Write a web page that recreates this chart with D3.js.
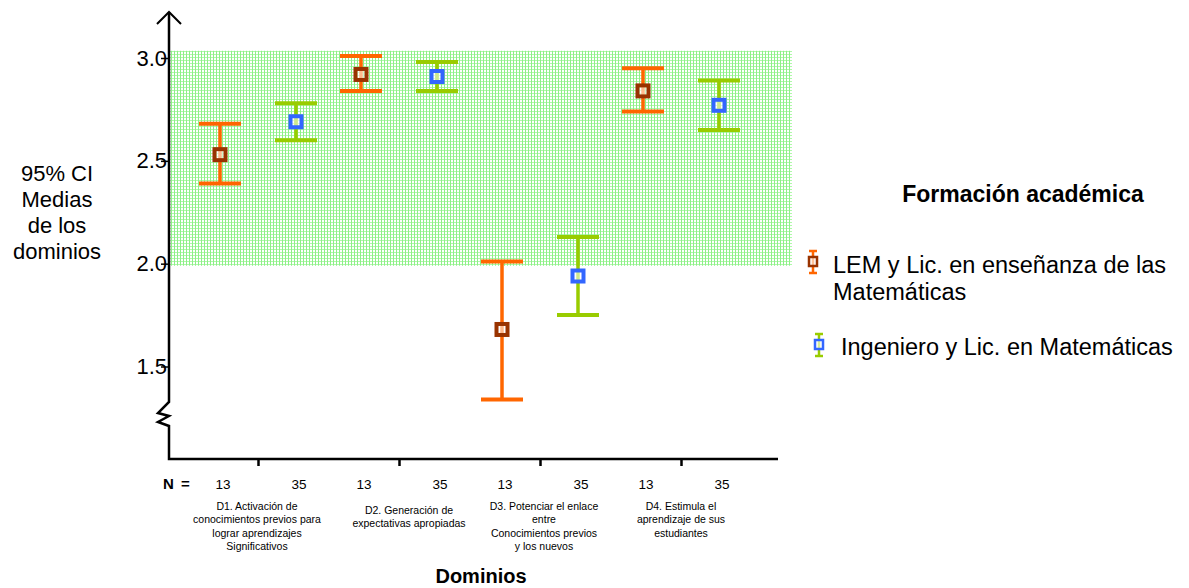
<!DOCTYPE html>
<html>
<head>
<meta charset="utf-8">
<script src="https://cdn.jsdelivr.net/npm/d3@7"></script>
<style>
  html, body { margin: 0; padding: 0; background: #fff; }
  svg { display: block; font-family: Arial, "Liberation Sans", sans-serif; }
</style>
</head>
<body>
<svg id="chart" width="1189" height="588"></svg>
<script>
// ---------- data ----------
const domainLabels = [
  ["D1. Activación de", "conocimientos previos para", "lograr aprendizajes", "Significativos"],
  ["D2. Generación de", "expectativas apropiadas"],
  ["D3. Potenciar el enlace", "entre", "Conocimientos previos", "y los nuevos"],
  ["D4. Estimula el", "aprendizaje de sus", "estudiantes"]
];
const seriesNames = ["LEM y Lic. en enseñanza de las Matemáticas", "Ingeniero y Lic. en Matemáticas"];
const seriesKeys = ["LEM", "ING"];
const nLEM = [13, 13, 13, 13];
const nING = [35, 35, 35, 35];
const meanLEM = [2.53, 2.92, 1.68, 2.84];
const lowLEM  = [2.39, 2.84, 1.34, 2.74];
const highLEM = [2.68, 3.01, 2.01, 2.95];
const meanING = [2.69, 2.91, 1.94, 2.77];
const lowING  = [2.60, 2.84, 1.75, 2.65];
const highING = [2.78, 2.98, 2.13, 2.89];
const yTicks = [1.5, 2.0, 2.5, 3.0];
const bandRange = [1.99, 3.035];

// ---------- layout ----------
const svg = d3.select("#chart");
const axisX = 169, axisBottom = 459, axisRight = 778;

const y = d3.scaleLinear().domain([1.5, 3.0]).range([366.5, 58]);
const xDom = d3.scalePoint().domain(d3.range(domainLabels.length)).range([258, 681]);
const xSer = d3.scalePoint().domain(seriesKeys).range([-38, 38]);

const styles = {
  LEM: { whisker: "#ff6600", box: "#993300" },
  ING: { whisker: "#99cc00", box: "#3366ff" }
};

// pattern for reference band
const defs = svg.append("defs");
const pat = defs.append("pattern").attr("id", "dots").attr("patternUnits", "userSpaceOnUse")
  .attr("width", 3).attr("height", 3);
pat.append("rect").attr("width", 3).attr("height", 3).attr("fill", "#ffffff");
pat.append("rect").attr("x", 0).attr("y", 0).attr("width", 3).attr("height", 1).attr("fill", "#b0f8aa");
pat.append("rect").attr("x", 0).attr("y", 0).attr("width", 1).attr("height", 3).attr("fill", "#8ef088");

svg.append("rect")
  .attr("x", axisX + 1).attr("width", 792 - axisX - 1)
  .attr("y", y(bandRange[1])).attr("height", y(bandRange[0]) - y(bandRange[1]))
  .attr("fill", "url(#dots)");

// y axis ticks & labels
const yAxis = d3.axisLeft(y).tickValues(yTicks).tickSize(8).tickFormat(d3.format(".1f"));
const gy = svg.append("g").attr("transform", `translate(${axisX},0)`).call(yAxis);
gy.select(".domain").remove();
gy.selectAll(".tick line").attr("stroke", "#000").attr("stroke-width", 1.5);
gy.selectAll(".tick text").attr("x", -2).attr("font-size", 22).attr("fill", "#000")
  .attr("font-family", "Arial, 'Liberation Sans', sans-serif");

// y axis line with arrow and break
const axisPath = d3.path();
axisPath.moveTo(axisX, 12);
axisPath.lineTo(axisX, 402);
axisPath.lineTo(158, 413);
axisPath.lineTo(axisX, 416);
axisPath.lineTo(158, 422);
axisPath.lineTo(axisX, 426);
axisPath.lineTo(axisX, axisBottom);
axisPath.lineTo(axisRight, axisBottom);
svg.append("path").attr("d", axisPath.toString()).attr("fill", "none")
  .attr("stroke", "#000").attr("stroke-width", 2.5).attr("stroke-linejoin", "miter");
svg.append("path").attr("d", `M${axisX - 12},24 L${axisX},12 L${axisX + 12},24`)
  .attr("fill", "none").attr("stroke", "#000").attr("stroke-width", 2);

// x axis ticks
const xAxis = d3.axisBottom(xDom).tickSize(7).tickFormat("");
const gx = svg.append("g").attr("transform", `translate(0,${axisBottom})`).call(xAxis);
gx.select(".domain").remove();
gx.selectAll(".tick line").attr("stroke", "#000").attr("stroke-width", 2.5);

// y title
const yTitle = ["95% CI", "Medias", "de los", "dominios"];
svg.append("text").attr("x", 57).attr("y", 181).attr("text-anchor", "middle")
  .attr("font-size", 22).attr("fill", "#000")
  .selectAll("tspan").data(yTitle).join("tspan")
  .attr("x", 57).attr("dy", (d, i) => i === 0 ? 0 : 26).text(d => d);

// N labels
svg.append("text").attr("x", 163).attr("y", 489).attr("font-size", 15)
  .attr("font-weight", "bold").text("N");
svg.append("text").attr("x", 181).attr("y", 489).attr("font-size", 15)
  .attr("font-weight", "bold").text("=");
const nData = [];
domainLabels.forEach((_, i) => {
  nData.push({ i, k: "LEM", n: nLEM[i] });
  nData.push({ i, k: "ING", n: nING[i] });
});
svg.append("g").selectAll("text").data(nData).join("text")
  .attr("x", d => xDom(d.i) + xSer(d.k) + 3).attr("y", 489)
  .attr("text-anchor", "middle").attr("font-size", 13.5).text(d => d.n);

// category labels
const labelShift = [0, 4, 0, 0];
const labelDx = [-1, 10, 4, 0];
domainLabels.forEach((lines, i) => {
  svg.append("text").attr("text-anchor", "middle").attr("font-size", 10.5)
    .attr("y", 510 + labelShift[i])
    .selectAll("tspan").data(lines).join("tspan")
    .attr("x", xDom(i) + labelDx[i]).attr("dy", (d, j) => j === 0 ? 0 : 13.3).text(d => d);
});

svg.append("text").attr("x", 481).attr("y", 583).attr("text-anchor", "middle")
  .attr("font-size", 20).attr("font-weight", "bold").text("Dominios");

// error bars
const rows = [];
domainLabels.forEach((_, i) => {
  rows.push({ i, k: "LEM", m: meanLEM[i], lo: lowLEM[i], hi: highLEM[i] });
  rows.push({ i, k: "ING", m: meanING[i], lo: lowING[i], hi: highING[i] });
});
const capW = 42;
const g = svg.append("g");
const bars = g.selectAll("g.bar").data(rows).join("g").attr("class", "bar")
  .attr("transform", d => `translate(${xDom(d.i) + xSer(d.k)},0)`);
bars.append("line").attr("x1", 0).attr("x2", 0)
  .attr("y1", d => y(d.hi)).attr("y2", d => y(d.lo))
  .attr("stroke", d => styles[d.k].whisker).attr("stroke-width", 3.5);
bars.append("line").attr("x1", -capW / 2).attr("x2", capW / 2)
  .attr("y1", d => y(d.hi)).attr("y2", d => y(d.hi))
  .attr("stroke", d => styles[d.k].whisker).attr("stroke-width", 4);
bars.append("line").attr("x1", -capW / 2).attr("x2", capW / 2)
  .attr("y1", d => y(d.lo)).attr("y2", d => y(d.lo))
  .attr("stroke", d => styles[d.k].whisker).attr("stroke-width", 4);
bars.append("rect").attr("x", -5.5).attr("width", 11).attr("height", 11)
  .attr("y", d => y(d.m) - 5.5)
  .attr("fill", "#ffffff").attr("fill-opacity", 0.55)
  .attr("stroke", d => styles[d.k].box).attr("stroke-width", 4);

// legend
svg.append("text").attr("x", 1023).attr("y", 202).attr("text-anchor", "middle")
  .attr("font-size", 23).attr("font-weight", "bold").text("Formación académica");

const legendItems = [
  { k: "LEM", ix: 813, iy: 262, tx: 833, ty: 273, lines: ["LEM y Lic. en enseñanza de las", "Matemáticas"] },
  { k: "ING", ix: 819, iy: 345, tx: 841, ty: 355, lines: ["Ingeniero y Lic. en Matemáticas"] }
];
legendItems.forEach((it) => {
  const lg = svg.append("g").attr("transform", `translate(${it.ix},${it.iy})`);
  lg.append("line").attr("x1", 0).attr("x2", 0).attr("y1", -11).attr("y2", 11)
    .attr("stroke", styles[it.k].whisker).attr("stroke-width", 2.5);
  lg.append("line").attr("x1", -4).attr("x2", 4).attr("y1", -11).attr("y2", -11)
    .attr("stroke", styles[it.k].whisker).attr("stroke-width", 2.5);
  lg.append("line").attr("x1", -4).attr("x2", 4).attr("y1", 11).attr("y2", 11)
    .attr("stroke", styles[it.k].whisker).attr("stroke-width", 2.5);
  lg.append("rect").attr("x", -4).attr("y", -5).attr("width", 8).attr("height", 9)
    .attr("fill", "#fff").attr("fill-opacity", 0.6)
    .attr("stroke", styles[it.k].box).attr("stroke-width", 2.5);
  svg.append("text").attr("y", it.ty).attr("font-size", 23.5).attr("fill", "#000")
    .selectAll("tspan").data(it.lines).join("tspan")
    .attr("x", it.tx).attr("dy", (d, j) => j === 0 ? 0 : 27).text(d => d);
});
</script>
</body>
</html>
